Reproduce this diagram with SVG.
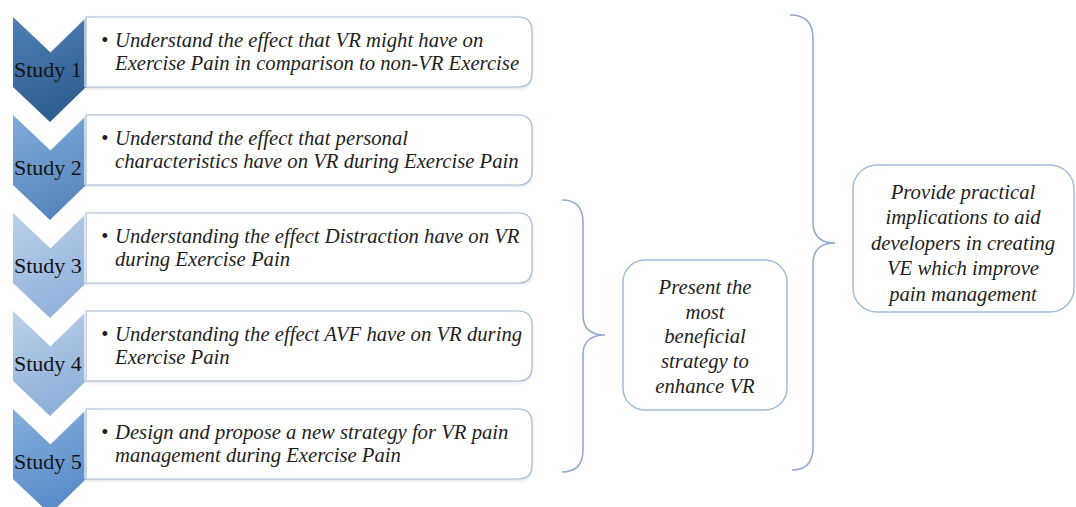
<svg xmlns="http://www.w3.org/2000/svg" width="1076" height="507" viewBox="0 0 1076 507">
<style>
.box{fill:#ffffff;stroke:#a3b8d4;stroke-width:1.2;filter:url(#sh)}
.txt{font-family:'Liberation Serif','Times New Roman',serif;font-style:italic;font-size:20.7px;fill:#1e1e1e}
.lbl{font-family:'Liberation Serif','Times New Roman',serif;font-size:22px;fill:#141414}
.bev{fill:none;stroke:#ffffff;stroke-opacity:0.75;stroke-width:1.6}
.brace{fill:none;stroke:#93acd0;stroke-width:1.6}
.rbox{fill:#ffffff;stroke:#a3bcdc;stroke-width:1.5}
.ctr{text-anchor:middle}
</style>
<defs>
<filter id="sh" x="-5%" y="-10%" width="110%" height="130%">
<feDropShadow dx="0" dy="1.5" stdDeviation="1.5" flood-color="#9aa6b5" flood-opacity="0.3"/>
</filter>
<linearGradient id="g1" x1="0" y1="0" x2="0.3" y2="1"><stop offset="0" stop-color="#4f80b6"/><stop offset="1" stop-color="#2f5e90"/></linearGradient>
<linearGradient id="g2" x1="0" y1="0" x2="0.3" y2="1"><stop offset="0" stop-color="#80acda"/><stop offset="1" stop-color="#5787be"/></linearGradient>
<linearGradient id="g3" x1="0" y1="0" x2="0.3" y2="1"><stop offset="0" stop-color="#bcd0ea"/><stop offset="1" stop-color="#93b2dc"/></linearGradient>
<linearGradient id="g4" x1="0" y1="0" x2="0.3" y2="1"><stop offset="0" stop-color="#bdd1ea"/><stop offset="1" stop-color="#8fafd9"/></linearGradient>
<linearGradient id="g5" x1="0" y1="0" x2="0.3" y2="1"><stop offset="0" stop-color="#84afdd"/><stop offset="1" stop-color="#5a8cc9"/></linearGradient>
</defs>
<rect width="1076" height="507" fill="#ffffff"/>

<g id="connectors">
<path class="brace" d="M790,15 Q813,15 813,38 V222 Q813,243 835,243 Q813,243 813,264 V447 Q813,470 792,470"/>
<path class="brace" d="M562,200 Q583,200 583,222 V315 Q583,335 605,335 Q583,335 583,355 V450 Q583,472 562,472"/>
</g>

<g id="study1">
<path class="box" d="M86,17 H518 Q532,17 532,31 V73 Q532,87 518,87 H86 Z"/>
<path d="M13,17 L50,52 L86,17 L86,87 L50,122 L13,87 Z" fill="url(#g1)"/>
<path class="bev" d="M50,52 L85,18 V87"/>
<text class="lbl" x="14" y="77">Study 1</text>
<text class="txt" x="101" y="47">• <tspan x="115">Understand the effect that VR might have on</tspan><tspan x="115" y="70">Exercise Pain in comparison to non-VR Exercise</tspan></text>
</g>

<g id="study2">
<path class="box" d="M86,115 H518 Q532,115 532,129 V171 Q532,185 518,185 H86 Z"/>
<path d="M13,115 L50,150 L86,115 L86,185 L50,220 L13,185 Z" fill="url(#g2)"/>
<path class="bev" d="M50,150 L85,116 V185"/>
<text class="lbl" x="14" y="175">Study 2</text>
<text class="txt" x="101" y="145">• <tspan x="115">Understand the effect that personal</tspan><tspan x="115" y="168">characteristics have on VR during Exercise Pain</tspan></text>
</g>

<g id="study3">
<path class="box" d="M86,213 H518 Q532,213 532,227 V269 Q532,283 518,283 H86 Z"/>
<path d="M13,213 L50,248 L86,213 L86,283 L50,318 L13,283 Z" fill="url(#g3)"/>
<path class="bev" d="M50,248 L85,214 V283"/>
<text class="lbl" x="14" y="273">Study 3</text>
<text class="txt" x="101" y="243">• <tspan x="115">Understanding the effect Distraction have on VR</tspan><tspan x="115" y="266">during Exercise Pain</tspan></text>
</g>

<g id="study4">
<path class="box" d="M86,311 H518 Q532,311 532,325 V367 Q532,381 518,381 H86 Z"/>
<path d="M13,311 L50,346 L86,311 L86,381 L50,416 L13,381 Z" fill="url(#g4)"/>
<path class="bev" d="M50,346 L85,312 V381"/>
<text class="lbl" x="14" y="371">Study 4</text>
<text class="txt" x="101" y="341">• <tspan x="115">Understanding the effect AVF have on VR during</tspan><tspan x="115" y="364">Exercise Pain</tspan></text>
</g>

<g id="study5">
<path class="box" d="M86,409 H518 Q532,409 532,423 V465 Q532,479 518,479 H86 Z"/>
<path d="M13,409 L50,444 L86,409 L86,479 L50,514 L13,479 Z" fill="url(#g5)"/>
<path class="bev" d="M50,444 L85,410 V479"/>
<text class="lbl" x="14" y="469">Study 5</text>
<text class="txt" x="101" y="439">• <tspan x="115">Design and propose a new strategy for VR pain</tspan><tspan x="115" y="462">management during Exercise Pain</tspan></text>
</g>

<g id="strategy">
<rect class="rbox" x="623" y="260" width="164" height="150" rx="22"/>
<text class="txt ctr" x="705" y="294">Present the<tspan x="705" y="319">most</tspan><tspan x="705" y="343">beneficial</tspan><tspan x="705" y="368">strategy to</tspan><tspan x="705" y="393">enhance VR</tspan></text>
</g>

<g id="implications">
<rect class="rbox" x="853" y="165" width="221" height="147" rx="24"/>
<text class="txt ctr" x="963" y="199">Provide practical<tspan x="963" y="224">implications to aid</tspan><tspan x="963" y="250">developers in creating</tspan><tspan x="963" y="275">VE which improve</tspan><tspan x="963" y="301">pain management</tspan></text>
</g>
</svg>
